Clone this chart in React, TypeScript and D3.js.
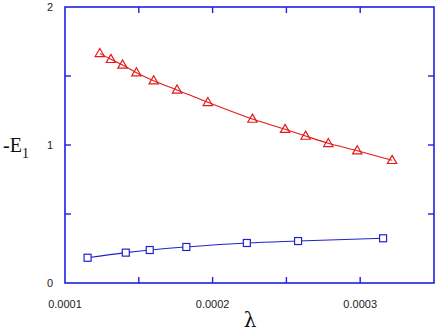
import * as d3 from "d3";

const W = 436;
const H = 336;
const M = { left: 65, top: 7, right: 2, bottom: 53 };

// red triangles
const lambdaA = [0.0001236, 0.0001311, 0.000139, 0.0001484, 0.0001601, 0.0001759, 0.0001968, 0.000227, 0.0002491, 0.000263, 0.0002784, 0.000298, 0.0003216];
const energyA = [1.664, 1.621, 1.58, 1.524, 1.466, 1.399, 1.309, 1.188, 1.114, 1.065, 1.012, 0.959, 0.889];

// blue squares
const lambdaB = [0.0001153, 0.0001412, 0.0001574, 0.0001822, 0.0002232, 0.0002579, 0.0003155];
const energyB = [0.183, 0.22, 0.239, 0.261, 0.29, 0.304, 0.324];

const xMinorTicks = [0.00015, 0.0002, 0.00025, 0.0003];
const xLabels = [0.0001, 0.0002, 0.0003];
const yMinorTicks = [0.5, 1, 1.5];
const yLabels = [0, 1, 2];

const FRAME = "#1f1fe6";
const RED = "#e41a1a";
const BLUE = "#2222cc";

export default function App() {
  const x = d3.scaleLinear().domain([0.0001, 0.00035]).range([M.left, W - M.right]);
  const y = d3.scaleLinear().domain([0, 2]).range([H - M.bottom, M.top]);

  const line = d3
    .line<[number, number]>()
    .x((d) => x(d[0]))
    .y((d) => y(d[1]))
    .curve(d3.curveMonotoneX);

  const ptsA = lambdaA.map((l, i) => [l, energyA[i]] as [number, number]);
  const ptsB = lambdaB.map((l, i) => [l, energyB[i]] as [number, number]);
  const tri = d3.symbol().type(d3.symbolTriangle).size(38)() as string;

  const x0 = x.range()[0];
  const x1 = x.range()[1];
  const y0 = y.range()[0];
  const y1 = y.range()[1];
  const tl = 6;

  return (
    <svg width={W} height={H} style={{ position: "absolute", left: 0, top: 0, background: "#fff" }}>
      <rect x={x0} y={y1} width={x1 - x0} height={y0 - y1} fill="none" stroke={FRAME} strokeWidth={1.6} />
      {xMinorTicks.map((t) => (
        <g key={"xt" + t} stroke={FRAME} strokeWidth={1.4}>
          <line x1={x(t)} x2={x(t)} y1={y0} y2={y0 - tl} />
          <line x1={x(t)} x2={x(t)} y1={y1} y2={y1 + tl} />
        </g>
      ))}
      {yMinorTicks.map((t) => (
        <g key={"yt" + t} stroke={FRAME} strokeWidth={1.4}>
          <line x1={x0} x2={x0 + tl} y1={y(t)} y2={y(t)} />
          <line x1={x1} x2={x1 - tl} y1={y(t)} y2={y(t)} />
        </g>
      ))}
      {xLabels.map((t) => (
        <text key={"xl" + t} x={x(t)} y={y0 + 25} textAnchor="middle" fontFamily="Liberation Sans, Arial, sans-serif" fontSize={11} fill="#222">
          {d3.format(".4f")(t)}
        </text>
      ))}
      {yLabels.map((t) => (
        <text key={"yl" + t} x={50} y={y(t)} dy="0.35em" textAnchor="middle" fontFamily="Liberation Sans, Arial, sans-serif" fontSize={11} fill="#222">
          {t}
        </text>
      ))}

      <path d={line(ptsA) ?? ""} fill="none" stroke={RED} strokeWidth={1.1} />
      {ptsA.map((p, i) => (
        <path key={"a" + i} d={tri} transform={`translate(${x(p[0])},${y(p[1]) + 0.5})`} fill="none" stroke={RED} strokeWidth={1.2} />
      ))}

      <path d={line(ptsB) ?? ""} fill="none" stroke={BLUE} strokeWidth={1.1} />
      {ptsB.map((p, i) => (
        <rect key={"b" + i} x={x(p[0]) - 3.5} y={y(p[1]) - 3.5} width={7} height={7} fill="#fff" stroke={BLUE} strokeWidth={1.2} />
      ))}

      <text x={250} y={327} textAnchor="middle" fontFamily="DejaVu Serif, serif" fontSize={20} fill="#111">
        λ
      </text>
      <text x={3} y={152} fontFamily="Liberation Serif, Times New Roman, serif" fontSize={20} fill="#111">
        -E
        <tspan fontSize={14} dy={6}>1</tspan>
      </text>
    </svg>
  );
}
